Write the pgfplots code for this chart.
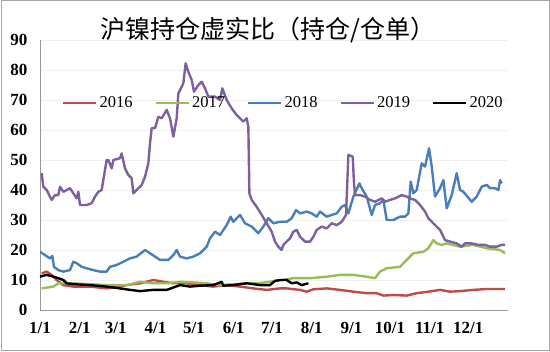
\documentclass[border=0pt]{standalone}
\usepackage{pgfplots}
\pgfplotsset{compat=1.18}
\usepackage{fontspec}
\setmainfont{Liberation Serif}
\newfontfamily\cjk{Noto Sans CJK SC}
\definecolor{c16}{HTML}{BE4B48}
\definecolor{c17}{HTML}{9BBB59}
\definecolor{c18}{HTML}{4A7EBB}
\definecolor{c19}{HTML}{7D60A0}
\begin{document}
\begin{tikzpicture}[x=1pt,y=1pt]
\begin{axis}[
  at={(40pt,42pt)}, anchor=south west,
  scale only axis, width=468pt, height=270pt,
  xmin=0, xmax=365, ymin=0, ymax=90,
  xtick={0,31,59,90,120,151,181,212,243,273,304,334},
  xticklabels={1/1,2/1,3/1,4/1,5/1,6/1,7/1,8/1,9/1,10/1,11/1,12/1},
  ytick={0,10,...,90},
  axis lines=left, axis line style={-, draw=gray!80, line width=0.8pt},
  major tick length=0pt,
  ymajorgrids, grid style={gray!12, line width=0.5pt},
  /pgf/number format/assume math mode=true,
  tick label style={font=\fontsize{17}{17}\selectfont\bfseries},
  xticklabel style={yshift=-9pt},
  yticklabel style={xshift=-9pt},
  legend columns=5,
  legend style={draw=none, fill=none, at={(0.047,0.767)}, anchor=west,
    font=\fontsize{16.5}{16.5}\selectfont, inner sep=0pt,
    /tikz/every even column/.append style={column sep=20pt}},
  legend image code/.code={\draw[#1,line width=2.5pt] (0pt,0pt) -- (33pt,0pt);},
  every axis plot/.append style={line width=2.4pt, no markers, line join=round},
]
\addplot[c16] coordinates {
(1.3,12.2)(5.2,12.8)(9.1,11.7)(13,10)(18.2,8.3)(26,7.8)(39,7.8)(52,7.2)(62.4,7.8)(67.6,8.3)
(78,8.9)(88.4,10)(96.2,9.4)(104,8.9)(114.4,8.9)(124.8,8.3)(135.2,7.8)(145.6,8.3)(156,7.8)
(166.4,7.2)(176.8,6.7)(187.2,7.2)(192.4,7.2)(202.8,6.7)(208,6.1)(213.2,6.9)(223.6,7.2)(234,6.7)
(244.4,6.1)(254.8,5.6)(262.6,5.6)(267.8,4.8)(275.6,5)(286,4.8)(293.8,5.6)(302.9,6.1)(312,6.7)
(319.8,6.1)(327.6,6.3)(338,6.7)(348.4,7)(362.7,7)};
\addlegendentry{2016}
\addplot[c17] coordinates {
(1.3,7.2)(10.4,7.8)(14.3,8.9)(26,8.9)(39,8.6)(52,8.3)(67.6,8.3)(78,9.4)(88.4,8.9)(98.8,8.9)
(109.2,9.4)(119.6,9.2)(130,8.9)(140.4,8.3)(150.8,8.6)(161.2,8.9)(171.6,9)(184.6,9.7)(197.6,10.6)
(210.6,10.6)(223.6,11.1)(234,11.7)(244.4,11.7)(254.8,11.1)(261.3,10.6)(265.2,12.8)(270.4,13.9)
(280.8,14.4)(286,16.7)(291.2,18.9)(299,19.4)(302.9,20.6)(306.8,23.3)(309.4,22.2)(313.3,21.7)
(317.2,22.2)(327.6,21.1)(338,21.7)(348.4,20.6)(358.8,20)(362.7,18.9)};
\addlegendentry{2017}
\addplot[c18] coordinates {
(0,19.4)(3.9,18.3)(7.8,17.2)(9.6,18)(10.9,14.4)(14.3,13.3)(18.2,12.8)(23.4,13.3)(26,16.1)
(28.6,15.6)(32.5,14.4)(36.4,13.9)(41.6,13.3)(46.8,12.8)(52,12.8)(54.6,14.4)(59.8,15)(65,16.1)
(70.2,17.2)(75.4,17.8)(81.9,20)(85.8,18.9)(89.7,17.8)(93.6,16.7)(100.1,16.7)(104,18.3)
(106.6,20)(109.2,17.8)(114.4,17.2)(119.6,17.8)(124.8,18.9)(130,21.1)(132.6,23.9)(136.5,26.1)
(140.4,25)(145.6,28.3)(148.7,31.1)(150.8,29.4)(156,31.7)(159.9,28.9)(165.1,27.8)(170.3,25.6)
(174.2,27.8)(178.1,30.6)(182,28.9)(187.2,29.4)(192.4,29.4)(196.3,30.6)(199.7,33.3)(202.8,32.2)
(208,32.8)(211.9,32.2)(215.8,31.1)(218.4,32.8)(223.6,31.1)(227.5,31.7)(231.4,32.2)(235.3,34.4)
(237.9,35)(240.5,32.2)(244.4,37.8)(249.1,42.2)(250.9,40.6)(254.8,37.8)(258.7,31.7)(261.3,35)
(265.2,35.6)(267.8,36.7)(270.4,30)(275.6,30)(280.8,31.1)(284.7,31.1)(287.3,32.2)(289.1,42.8)
(291.2,38.9)(293.8,40)(297.7,48.9)(300.3,47.8)(303.4,53.9)(305.5,47.8)(308.1,37.8)(312,40.6)
(314.6,43.3)(317.2,33.9)(321.1,38.3)(325,45.6)(327.6,40)(330.2,39.4)(336.7,36.1)(340.6,37.8)
(344.5,41.1)(348.4,41.7)(351,40.6)(354.9,40.6)(357.5,40)(358.8,43.3)(360.1,42.2)};
\addlegendentry{2018}
\addplot[c19] coordinates {
(1.3,45.6)(2.6,41.1)(5.2,40)(9.1,36.7)(11.7,38.3)(14.3,38.3)(15.6,41.1)(18.2,39.4)(23.4,40.6)
(26,38.9)(28.6,37.2)(29.9,39.4)(31.2,35)(36.4,35)(40.3,35.6)(42.9,37.8)(45.5,39.4)(48.1,40)
(50.7,46.7)(52,50)(53.3,50)(55.9,47.2)(57.2,50)(62.4,50.6)(63.7,52.2)(66.3,47.2)(68.9,45)
(71.5,43.9)(72.8,38.9)(76.7,40.6)(79.3,41.7)(81.9,44.4)(84.5,48.9)(85.8,55.6)(87.1,60.6)
(89.7,60.6)(92.3,64.4)(94.9,63.9)(98.8,66.7)(101.4,63.9)(104,57.8)(106.6,63.9)(107.9,72.2)
(110.5,74.4)(111.8,75.6)(113.6,82.2)(115.7,79.4)(118.3,76.7)(120.1,72.8)(123.5,75)(126.1,76.1)
(128.7,73.9)(131.3,71.1)(136.5,71.1)(140.4,70)(142.2,73.9)(145.6,70)(149.5,67.2)(153.4,65)
(156,63.9)(158.6,62.8)(161.2,63.9)(162.5,61.1)(163.3,38.9)(165.1,36.7)(169,34.4)(172.9,31.7)
(176.8,28.9)(180.7,26.1)(183.3,22.8)(185.9,21.1)(188.5,20)(189.8,21.7)(192.4,22.8)(195,23.9)
(197.6,26.1)(200.2,26.7)(202.8,24.4)(206.7,22.8)(210.6,22.8)(213.2,24.4)(215.8,26.7)(219.7,27.8)
(223.6,27.2)(227.5,28.9)(231.4,28.3)(235.3,29.4)(238.7,31.7)(240.5,51.7)(243.9,51.1)(244.9,42.2)
(245.7,38.3)(249.6,38.3)(253.5,37.8)(257.4,36.7)(261.3,36.1)(266.5,37.2)(269.1,36.1)(273,36.7)
(276.9,37.2)(282.1,38.3)(286,37.8)(288.6,37.2)(292.5,36.7)(296.4,35)(300.3,32.8)(302.9,30.6)
(308.1,28.3)(312,26.7)(315.9,23.3)(319.8,22.8)(325,22.2)(328.9,21.1)(331.5,22.2)(336.7,22.2)
(341.9,21.7)(347.1,21.7)(351,21.1)(356.2,21.1)(360.1,21.7)(362.7,21.7)};
\addlegendentry{2019}
\addplot[black] coordinates {
(0,11.1)(5.2,11.7)(10.4,11.1)(14.3,10.6)(18.2,10)(20.8,8.9)(26,8.6)(39,8.3)(52,7.8)(62.4,7.2)
(70.2,6.7)(78,6.3)(88.4,6.7)(98.8,6.7)(109.2,8.3)(117,7.8)(124.8,8.1)(135.2,8.3)(141.7,9.4)
(143,8.1)(150.8,8.3)(161.2,8.9)(171.6,8.3)(179.4,8.3)(183.3,9.7)(187.2,10)(192.4,10)(196.3,8.9)
(200.2,9.2)(204.1,8.3)(209.3,8.9)};
\addlegendentry{2020}
\end{axis}
\node[font=\cjk\fontsize{25}{25}\selectfont] at (268pt,322pt) {沪镍持仓虚实比（持仓/仓单）};
\draw[gray!70, line width=1pt] (1pt,1pt) rectangle (549pt,351pt);
\pgfresetboundingbox
\path[use as bounding box] (0pt,0pt) rectangle (550pt,352pt);
\end{tikzpicture}
\end{document}
